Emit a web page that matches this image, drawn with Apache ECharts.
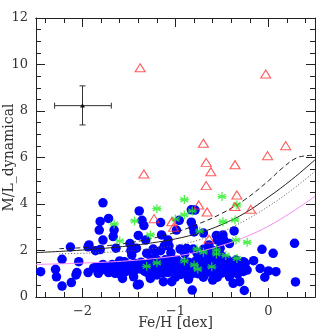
<!DOCTYPE html>
<html>
<head>
<meta charset="utf-8">
<script src="https://cdn.jsdelivr.net/npm/echarts@6/dist/echarts.min.js"></script>
<style>
  html, body { margin: 0; padding: 0; background: #fff; }
  #chart { width: 333px; height: 333px; }
</style>
</head>
<body>
<div id="chart"></div>
<script>
// ticks
const xMajor = [-2, -1, 0]
const xMinor = [-2.4, -2.2, -1.8, -1.6, -1.4, -1.2, -0.8, -0.6, -0.4, -0.2, 0.2, 0.4]

// [Fe/H, M/L]
const bluePoints = [
  [-2.45, 1.09], [-2.29, 1.19], [-2.28, 0.87], [-2.22, 1.62], [-2.22, 0.47], [-2.13, 2.15], [-2.12, 0.62],
  [-2.07, 0.95], [-2.06, 1.05], [-2.04, 1.52], [-1.94, 2.16], [-1.93, 2.24], [-1.94, 1.05], [-1.86, 1.99],
  [-1.85, 1.30], [-1.83, 1.02], [-1.81, 2.04], [-1.82, 2.88], [-1.81, 3.25], [-1.78, 4.05], [-1.78, 2.45],
  [-1.78, 1.40], [-1.72, 3.38], [-1.70, 1.30], [-1.66, 2.88], [-1.67, 2.60], [-1.64, 2.10], [-1.65, 1.30],
  [-1.65, 1.02], [-1.61, 1.02], [-1.62, 1.30], [-1.58, 1.42], [-1.56, 1.17], [-1.55, 1.52], [-1.52, 1.30],
  [-1.49, 2.30], [-1.48, 1.99], [-1.47, 1.81], [-1.44, 1.45], [-1.44, 1.16], [-1.45, 0.87], [-1.42, 2.10],
  [-1.41, 0.52], [-1.40, 2.65], [-1.39, 3.70], [-1.36, 3.30], [-1.35, 1.30], [-1.34, 3.07], [-1.32, 2.45],
  [-1.31, 1.88], [-1.27, 1.45], [-1.27, 0.80], [-1.26, 1.65], [-1.24, 2.06], [-1.22, 1.30], [-1.21, 1.95],
  [-1.20, 1.60], [-1.18, 1.19], [-1.16, 3.20], [-1.15, 2.67], [-1.16, 1.99], [-1.13, 0.66], [-1.14, 1.04],
  [-1.12, 2.20], [-1.12, 1.45], [-1.10, 1.30], [-1.08, 2.45], [-1.07, 2.20], [-1.04, 0.66], [-1.05, 1.90],
  [-1.03, 1.61], [-1.01, 1.19], [-0.99, 2.88], [-0.98, 1.58], [-0.96, 3.30], [-0.95, 2.06], [-0.94, 0.97],
  [-0.92, 1.45], [-0.90, 1.87], [-0.88, 2.09], [-0.89, 1.30], [-0.86, 0.76], [-0.86, 1.50], [-0.84, 1.17],
  [-0.82, 0.30], [-0.83, 3.75], [-0.83, 3.22], [-0.81, 3.00], [-0.80, 2.80], [-0.81, 2.06], [-0.81, 1.45],
  [-0.79, 3.74], [-0.76, 1.00], [-0.75, 1.69], [-0.73, 1.80], [-0.70, 2.75], [-0.69, 1.04], [-0.67, 1.40],
  [-0.64, 2.24], [-0.63, 1.17], [-0.62, 1.87], [-0.60, 0.73], [-0.58, 1.45], [-0.56, 2.65], [-0.55, 2.45],
  [-0.53, 1.87], [-0.51, 1.02], [-0.49, 1.30], [-0.49, 2.67], [-0.48, 2.45], [-0.42, 2.30], [-0.37, 2.84],
  [-0.44, 1.59], [-0.42, 0.87], [-0.38, 0.59], [-0.37, 1.30], [-0.36, 1.09], [-0.31, 0.66], [-0.26, 0.28],
  [-0.35, 1.59], [-0.33, 0.99], [-0.27, 1.52], [-0.23, 1.16], [-0.16, 1.56], [-0.09, 1.23], [-0.04, 0.85],
  [-0.07, 2.05], [0.0, 1.12], [0.05, 1.88], [0.08, 1.09], [0.28, 2.31], [0.29, 0.65],
  [-1.88, 1.25], [-1.80, 1.15], [-1.75, 1.30], [-1.72, 1.05], [-1.68, 1.40], [-1.60, 1.55], [-1.58, 0.95],
  [-1.53, 1.10], [-1.50, 1.40], [-1.48, 1.25], [-1.46, 1.05], [-1.43, 1.35], [-1.38, 1.20], [-1.37, 1.50],
  [-1.33, 1.10], [-1.30, 1.40], [-1.29, 1.00], [-1.25, 1.25], [-1.23, 1.55], [-1.20, 0.95], [-1.17, 1.40],
  [-1.13, 1.20], [-1.11, 1.60], [-1.08, 1.05], [-1.06, 1.40], [-1.04, 1.25], [-1.00, 1.45], [-0.98, 1.10],
  [-0.96, 1.30], [-0.93, 1.20], [-0.91, 1.05], [-0.87, 1.15], [-0.85, 1.35], [-0.82, 1.00], [-0.80, 1.25],
  [-0.78, 1.55], [-0.77, 1.30], [-0.74, 1.20], [-0.72, 1.40], [-0.71, 1.60], [-0.68, 1.25], [-0.66, 1.05],
  [-0.65, 1.60], [-0.61, 1.35], [-0.59, 1.00], [-0.57, 1.20], [-0.55, 1.60], [-0.52, 1.35], [-0.50, 1.15],
  [-0.48, 1.50], [-0.46, 1.05], [-0.45, 1.25], [-0.40, 1.45], [-0.39, 1.10], [-0.34, 1.20], [-0.30, 1.40],
  [-0.27, 1.10], [-0.25, 1.45], [-0.77, 1.90], [-0.70, 2.05], [-0.66, 1.80], [-0.60, 2.00], [-0.58, 1.70],
  [-0.50, 1.75], [-0.52, 2.10], [-1.39, 0.55], [-1.57, 0.80], [-1.00, 0.85], [-0.70, 0.85], [-0.55, 0.85]
]

const greenPoints = [
  [-1.66, 3.14], [-1.60, 2.41], [-1.44, 3.27], [-1.31, 1.32], [-1.27, 2.67], [-1.20, 3.80], [-1.20, 1.47],
  [-1.00, 3.35], [-0.905, 4.19], [-0.905, 3.53], [-0.905, 1.55], [-0.82, 3.70], [-0.80, 1.38], [-0.76, 1.20],
  [-0.74, 2.83], [-0.77, 2.06], [-0.70, 1.93], [-0.61, 1.30], [-0.56, 2.02], [-0.56, 1.85], [-0.50, 4.32],
  [-0.49, 3.24], [-0.46, 1.79], [-0.36, 3.31], [-0.34, 3.96], [-0.35, 2.45], [-0.34, 1.66], [-0.23, 2.35]
]

const redPoints = [
  [-1.38, 9.86], [-1.34, 5.29], [-1.23, 3.37], [-1.04, 3.24], [-1.02, 3.00], [-0.75, 3.96], [-0.70, 6.61],
  [-0.67, 5.79], [-0.67, 4.79], [-0.66, 3.66], [-0.62, 5.39], [-0.64, 2.49], [-0.36, 5.69], [-0.34, 4.39],
  [-0.36, 3.89], [-0.19, 3.77], [-0.03, 9.59], [-0.01, 6.08], [0.185, 6.51]
]

// [x, y, xLow, xHigh, yLow, yHigh]
const errorBar = [[-2.0, 8.23, -2.30, -1.69, 7.40, 9.08]]

const solidCurve = [
  [-2.5, 1.91], [-2.25, 1.96], [-2.0, 2.02], [-1.75, 2.1], [-1.5, 2.2], [-1.25, 2.33], [-1.0, 2.5],
  [-0.75, 2.75], [-0.5, 3.12], [-0.25, 3.62], [0, 4.3], [0.25, 5.05], [0.5, 5.9]
]
const dashedCurve = [
  [-2.25, 2.08], [-2.0, 2.12], [-1.75, 2.2], [-1.5, 2.33], [-1.25, 2.52], [-1.0, 2.78], [-0.75, 3.15],
  [-0.5, 3.6], [-0.25, 4.2], [0, 5.0], [0.15, 5.55], [0.3, 5.98], [0.4, 6.07], [0.5, 6.1]
]
const dottedCurve = [
  [-2.25, 1.86], [-2.0, 1.88], [-1.75, 1.92], [-1.5, 1.98], [-1.25, 2.08], [-1.0, 2.22], [-0.75, 2.45],
  [-0.5, 2.8], [-0.25, 3.3], [0, 3.9], [0.25, 4.6], [0.5, 5.4]
]
const magentaCurve = [
  [-2.5, 1.40], [-2.0, 1.46], [-1.5, 1.56], [-1.0, 1.76], [-0.75, 1.95], [-0.5, 2.22], [-0.25, 2.58],
  [0, 3.05], [0.25, 3.65], [0.5, 4.33]
]

const font = 'DejaVu Serif'
const frame = '#222'

function xAxisDef(position, values, len, withLabel) {
  return {
    type: 'value',
    min: -2.5,
    max: 0.5,
    position: position,
    axisLine: { show: true, onZero: false, lineStyle: { color: frame, width: 1 } },
    axisTick: { show: true, inside: true, length: len, customValues: values, lineStyle: { color: frame } },
    axisLabel: withLabel ? {
      show: true,
      customValues: values,
      margin: 8,
      color: '#333',
      fontFamily: font,
      fontSize: 13,
      formatter: v => String(v).replace('-', '\u2212')
    } : { show: false },
    splitLine: { show: false },
    name: withLabel ? 'Fe/H [dex]' : '',
    nameLocation: 'middle',
    nameGap: 19,
    nameMoveOverlap: false,
    nameTextStyle: { color: '#333', fontFamily: font, fontSize: 14 }
  }
}

function yAxisDef(position, withLabel) {
  return {
    type: 'value',
    min: 0,
    max: 12,
    interval: 2,
    position: position,
    axisLine: { show: true, onZero: false, lineStyle: { color: frame, width: 1 } },
    axisTick: { show: true, inside: true, length: 9, lineStyle: { color: frame } },
    minorTick: { show: true, splitNumber: 4, length: 5, lineStyle: { color: frame } },
    axisLabel: withLabel ? {
      show: true, margin: 8, color: '#333', fontFamily: font, fontSize: 13
    } : { show: false },
    splitLine: { show: false },
    minorSplitLine: { show: false },
    name: withLabel ? 'M/L_dynamical' : '',
    nameLocation: 'middle',
    nameGap: 20,
    nameMoveOverlap: false,
    nameTextStyle: { color: '#333', fontFamily: font, fontSize: 14 }
  }
}

const chart = echarts.init(document.getElementById('chart'), null, { renderer: 'canvas' })

chart.setOption({
  animation: false,
  backgroundColor: '#fff',
  grid: { left: 36, right: 18, top: 18, bottom: 36, containLabel: false, outerBoundsMode: 'none' },
  xAxis: [
    xAxisDef('bottom', xMajor, 9, true),
    xAxisDef('bottom', xMinor, 5, false),
    xAxisDef('top', xMajor, 9, false),
    xAxisDef('top', xMinor, 5, false)
  ],
  yAxis: [
    yAxisDef('left', true),
    yAxisDef('right', false)
  ],
  series: [
    {
      type: 'scatter',
      data: bluePoints,
      symbol: 'circle',
      symbolSize: 9.5,
      itemStyle: { color: '#0000ff', opacity: 1 },
      z: 2
    },
    {
      type: 'line',
      data: magentaCurve,
      smooth: 0.4,
      showSymbol: false,
      lineStyle: { color: '#f58cf5', width: 1 },
      z: 3
    },
    {
      type: 'line',
      data: dottedCurve,
      smooth: 0.4,
      showSymbol: false,
      lineStyle: { color: '#555', width: 1, type: [1, 2] },
      z: 3
    },
    {
      type: 'line',
      data: solidCurve,
      smooth: 0.4,
      showSymbol: false,
      lineStyle: { color: '#222', width: 1 },
      z: 3
    },
    {
      type: 'line',
      data: dashedCurve,
      smooth: 0.4,
      showSymbol: false,
      lineStyle: { color: '#222', width: 1, type: [5, 3] },
      z: 3
    },
    {
      type: 'scatter',
      data: greenPoints,
      symbol: 'path://M0,-10L0,10M-8.66,-5L8.66,5M-8.66,5L8.66,-5M-10,0L10,0',
      symbolSize: 9,
      itemStyle: { color: 'none', borderColor: '#22ee22', borderWidth: 1.3 },
      z: 4
    },
    {
      type: 'scatter',
      data: redPoints,
      symbol: 'triangle',
      symbolSize: [10, 8],
      itemStyle: { color: 'rgba(255,255,255,0)', borderColor: '#f33', borderWidth: 1.1 },
      z: 5
    },
    {
      type: 'custom',
      data: errorBar,
      z: 5,
      renderItem: (params, api) => {
        const c = api.coord([api.value(0), api.value(1)])
        const l = api.coord([api.value(2), api.value(1)])
        const r = api.coord([api.value(3), api.value(1)])
        const b = api.coord([api.value(0), api.value(4)])
        const t = api.coord([api.value(0), api.value(5)])
        const cap = 3
        const st = { stroke: '#333', lineWidth: 1 }
        return {
          type: 'group',
          children: [
            { type: 'line', shape: { x1: l[0], y1: l[1], x2: r[0], y2: r[1] }, style: st },
            { type: 'line', shape: { x1: b[0], y1: b[1], x2: t[0], y2: t[1] }, style: st },
            { type: 'line', shape: { x1: l[0], y1: l[1] - cap, x2: l[0], y2: l[1] + cap }, style: st },
            { type: 'line', shape: { x1: r[0], y1: r[1] - cap, x2: r[0], y2: r[1] + cap }, style: st },
            { type: 'line', shape: { x1: b[0] - cap, y1: b[1], x2: b[0] + cap, y2: b[1] }, style: st },
            { type: 'line', shape: { x1: t[0] - cap, y1: t[1], x2: t[0] + cap, y2: t[1] }, style: st },
            {
              type: 'polygon',
              shape: { points: [[c[0], c[1] - 2.5], [c[0] - 2.5, c[1] + 1.8], [c[0] + 2.5, c[1] + 1.8]] },
              style: { fill: '#111' }
            }
          ]
        }
      }
    }
  ]
})
</script>
</body>
</html>
